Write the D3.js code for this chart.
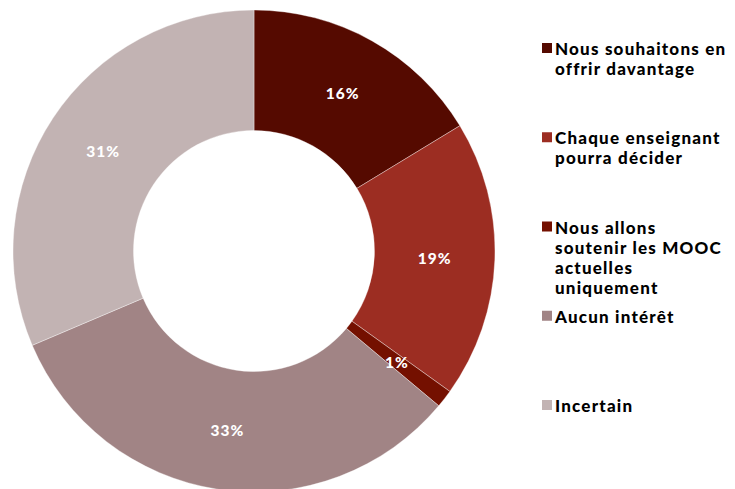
<!DOCTYPE html>
<html><head><meta charset="utf-8">
<script src="https://cdn.jsdelivr.net/npm/d3@7"></script>
<style>html,body{margin:0;padding:0;background:#fff;}svg{display:block;}</style>
</head><body>
<svg id="chart" width="735" height="489"></svg>
<script>
const categories = ["Nous souhaitons en offrir davantage","Chaque enseignant pourra décider","Nous allons soutenir les MOOC actuelles uniquement","Aucun intérêt","Incertain"];
const legendLines = [["Nous souhaitons en","offrir davantage"],["Chaque enseignant","pourra décider"],["Nous allons","soutenir les MOOC","actuelles","uniquement"],["Aucun intérêt"],["Incertain"]];
const values = [16.3, 18.6, 1.2, 32.5, 31.4];
const labels = ["16%","19%","1%","33%","31%"];
const colors = ["#550A00","#9C2D22","#741000","#A18485","#C2B3B3"];

const svg = d3.select("#chart");
const cx = 254, cy = 251, R = 241, r = 120.5;
const g = svg.append("g").attr("transform", `translate(${cx},${cy})`);
const pie = d3.pie().sort(null).value(d => d)(values);
const arc = d3.arc().innerRadius(r).outerRadius(R);

g.selectAll("path").data(pie).join("path")
  .attr("d", arc).attr("fill", (d,i) => colors[i])
  .attr("stroke", "#fff").attr("stroke-width", 0.6).attr("stroke-opacity", 0.6);

g.selectAll("text.lbl").data(pie).join("text").attr("class","lbl")
  .attr("transform", d => `translate(${arc.centroid(d)})`)
  .attr("text-anchor","middle").attr("dominant-baseline","central")
  .attr("fill","#fff").attr("font-family","Lato, sans-serif").attr("font-weight",900)
  .attr("font-size",15.5).attr("letter-spacing",1).text((d,i) => labels[i]);

const leg = svg.append("g");
const y0 = 48, step = 89.25, lh = 20;
legendLines.forEach((lines, i) => {
  const y = y0 + i*step;
  leg.append("rect").attr("x",542).attr("y",y-5).attr("width",10).attr("height",10).attr("fill",colors[i]);
  const t = leg.append("text").attr("x",555).attr("y",y)
    .attr("font-family","Lato, sans-serif").attr("font-weight",900).attr("font-size",17)
    .attr("fill","#000").attr("dominant-baseline","central");
  lines.forEach((ln, j) => t.append("tspan").attr("x",555).attr("y", y + j*lh).attr("letter-spacing",1.2).text(ln));
});
</script>
</body></html>
